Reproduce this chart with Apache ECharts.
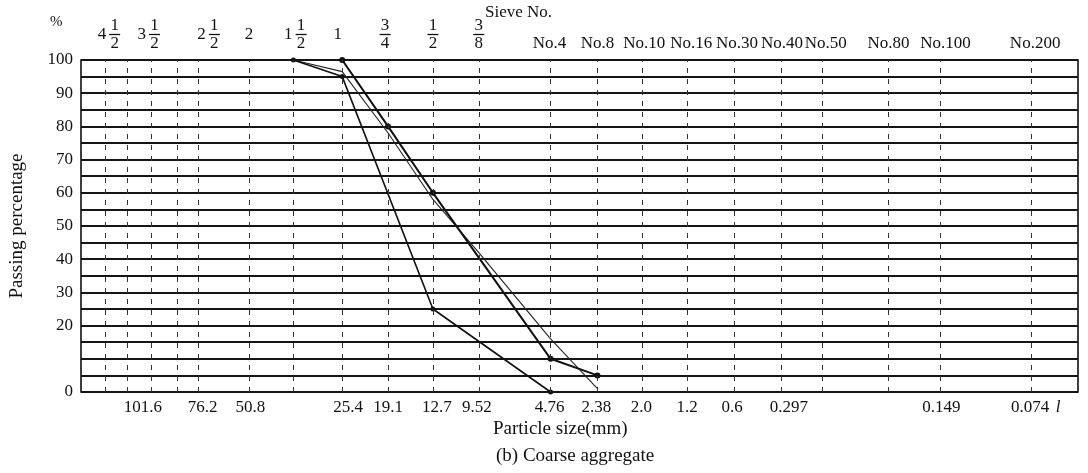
<!DOCTYPE html>
<html>
<head>
<meta charset="utf-8">
<script src="https://cdn.jsdelivr.net/npm/echarts@6/dist/echarts.min.js"></script>
<style>
  html, body { margin: 0; padding: 0; background: #fff; }
  #chart { width: 1088px; height: 473px; }
</style>
</head>
<body>
<div id="chart"></div>
<script>
// sieves and where they sit on the (irregular) printed size scale
const sieveNames = ['4½', '4', '3½', '3', '2½', '2', '1½', '1', '¾', '½', '⅜',
  'No.4', 'No.8', 'No.10', 'No.16', 'No.30', 'No.40', 'No.50', 'No.80', 'No.100', 'No.200'];
const sievePos = [24, 46, 70, 97, 118, 169, 213, 262, 308, 353, 399,
  471, 518, 563, 608, 655, 702, 743, 810, 862, 953];

// top tick labels (sieve no.)
const topLabels = ['4 1/2', '3 1/2', '2 1/2', '2', '1 1/2', '1', '3/4', '1/2', '3/8',
  'No.4', 'No.8', 'No.10', 'No.16', 'No.30', 'No.40', 'No.50', 'No.80', 'No.100', 'No.200'];
const topLabelPos = [28, 68, 128, 170, 215, 259, 305, 353, 399,
  470, 518, 565, 612, 658, 703, 747, 810, 867, 957];

// bottom tick labels (mm)
const mmLabels = ['101.6', '76.2', '50.8', '25.4', '19.1', '12.7', '9.52', '4.76', '2.38',
  '2.0', '1.2', '0.6', '0.297', '0.149', '0.074', 'l'];
const mmLabelPos = [62, 122, 170, 268, 308, 357, 397, 470, 517, 562, 608, 653, 710, 863, 952, 980];

const yLabels = [0, 20, 30, 40, 50, 60, 70, 80, 90, 100];

// passing percentage per sieve
const curveSieves = ['1½', '1', '¾', '½', '⅜', 'No.4', 'No.8'];
const upperPassing = [null, 100, 80, 60, null, 10, 5];
const lowerPassing = [100, 95, null, 25, null, 0, null];
const actualPassing = [100, 96.5, 78, 58, 42, 16, 1];

const toPoints = vals => curveSieves
  .map((s, i) => [sievePos[sieveNames.indexOf(s)], vals[i]])
  .filter(p => p[1] !== null);

const FONT = 'Liberation Serif';
const INK = '#111';

// stacked fractions: numerator / bar / denominator, whole number on the bar line
function topFormatter(value) {
  const label = topLabels[topLabelPos.indexOf(value)];
  if (label === undefined) return '';
  if (label.startsWith('No.')) return '{t|' + label + '}';
  if (label.indexOf('/') < 0) return '{n| }\n{i|' + label + '}\n{n| }';
  const parts = label.split(' ');
  const fr = parts[parts.length - 1].split('/');
  if (parts.length === 1) return '{n|' + fr[0] + '}\n{bar| }\n{n|' + fr[1] + '}';
  const w = parts[0];
  return '{ih|' + w + '}{n|' + fr[0] + '}\n{i|' + w + '}{bar| }\n{ih|' + w + '}{n|' + fr[1] + '}';
}

const chart = echarts.init(document.getElementById('chart'));

chart.setOption({
  animation: false,
  backgroundColor: '#fff',
  textStyle: { fontFamily: FONT, color: INK },
  title: [
    { text: 'Particle size(mm)', left: 493, top: 420, padding: 0,
      textStyle: { fontFamily: FONT, fontSize: 19, fontWeight: 'normal', color: INK } },
    { text: '(b) Coarse aggregate', left: 496, top: 447, padding: 0,
      textStyle: { fontFamily: FONT, fontSize: 19, fontWeight: 'normal', color: INK } }
  ],
  grid: {
    left: 80, right: 10, top: 60, bottom: 81,
    show: true, borderColor: '#000', borderWidth: 1.5
  },
  graphic: [
    { type: 'text', left: 50, top: 15,
      style: { text: '%', font: '15px "Liberation Serif"', fill: INK } },
    { type: 'text', left: 485, top: 4,
      style: { text: 'Sieve No.', font: '17px "Liberation Serif"', fill: INK } }
  ],
  xAxis: [
    {
      type: 'value', min: 0, max: 1000, position: 'bottom',
      axisLine: { show: false }, axisTick: { show: false }, splitLine: { show: false },
      axisLabel: {
        customValues: mmLabelPos,
        margin: 7,
        fontFamily: FONT, fontSize: 17, color: INK,
        formatter: v => {
          const t = mmLabels[mmLabelPos.indexOf(v)];
          return t === 'l' ? '{it|l}' : t;
        },
        rich: { it: { fontFamily: FONT, fontSize: 17, fontStyle: 'italic', color: INK } }
      }
    },
    {
      type: 'value', min: 0, max: 1000, position: 'top',
      axisLine: { show: false }, axisTick: { show: false }, splitLine: { show: false },
      axisLabel: {
        customValues: topLabelPos,
        margin: 12,
        formatter: topFormatter,
        rich: {
          t: { fontFamily: FONT, fontSize: 17, lineHeight: 9, color: INK },
          n: { fontFamily: FONT, fontSize: 17, lineHeight: 9, color: INK },
          i: { fontFamily: FONT, fontSize: 17, lineHeight: 9, color: INK, padding: [0, 3, 0, 0] },
          ih: { fontFamily: FONT, fontSize: 17, lineHeight: 9, color: 'rgba(0,0,0,0)', padding: [0, 3, 0, 0] },
          bar: { width: 11, height: 1.3, lineHeight: 9, fontSize: 2, backgroundColor: INK }
        }
      }
    }
  ],
  yAxis: {
    type: 'value', min: 0, max: 100, interval: 5,
    name: 'Passing percentage', nameLocation: 'middle', nameGap: 54,
    nameTextStyle: { fontFamily: FONT, fontSize: 19, color: INK },
    axisLine: { show: false }, axisTick: { show: false },
    axisLabel: {
      customValues: yLabels, margin: 8,
      fontFamily: FONT, fontSize: 17, color: INK
    },
    splitLine: { show: true, lineStyle: { color: '#151515', width: 2 } }
  },
  series: [
    {
      name: 'Upper limit', type: 'line', data: toPoints(upperPassing),
      symbol: 'circle', symbolSize: 6,
      lineStyle: { color: INK, width: 2 }, itemStyle: { color: INK },
      z: 4,
      markLine: {
        silent: true, symbol: ['none', 'none'], label: { show: false },
        lineStyle: { color: '#333', width: 1, type: [5, 6] },
        data: sievePos.map(p => ({ xAxis: p }))
      }
    },
    {
      name: 'Lower limit', type: 'line', data: toPoints(lowerPassing),
      symbol: 'circle', symbolSize: 5,
      lineStyle: { color: INK, width: 1.6 }, itemStyle: { color: INK },
      z: 4
    },
    {
      name: 'Aggregate', type: 'line', data: toPoints(actualPassing),
      symbol: 'none',
      lineStyle: { color: '#222', width: 1.1 },
      z: 3
    }
  ]
});
</script>
</body>
</html>
